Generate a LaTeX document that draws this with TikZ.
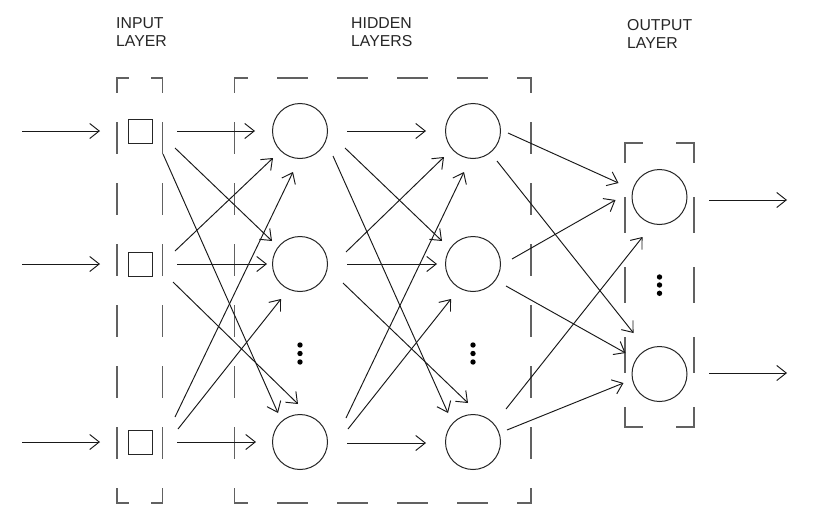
\documentclass[tikz,border=0pt]{standalone}
\usepackage{fontspec}
\setmainfont{Liberation Sans}
\usetikzlibrary{arrows.meta,calc}
\newcommand{\dside}[6]{%
  \pgfmathsetmacro{\dsL}{abs(#3-#1)+abs(#4-#2)}%
  \pgfmathsetmacro{\dsN}{floor((\dsL-#6)/(#5+#6))}%
  \pgfmathsetmacro{\dsC}{(\dsL-\dsN*#5-(\dsN+1)*#6)/2}%
  \pgfmathsetmacro{\dsP}{#5-\dsC}%
  \draw[boxline,dash pattern=on #5pt off #6pt,dash phase=\dsP pt] (#1,#2) -- (#3,#4);%
}
\newcommand{\dbox}[8]{%
  \dside{#1}{#2}{#3}{#2}{#5}{#6}%
  \dside{#1}{#4}{#3}{#4}{#5}{#6}%
  \dside{#1}{#2}{#1}{#4}{#7}{#8}%
  \dside{#3}{#2}{#3}{#4}{#7}{#8}%
}
\tikzset{
  sq/.style={draw=black!85, line width=1pt, minimum size=24pt, inner sep=0pt},
  neuron/.style={circle, draw=black!85, line width=1pt, minimum size=55pt, inner sep=0pt},
  conn/.style={draw=black!90, line width=0.95pt, -{Straight Barb[length=9.5pt,width=15pt]}},
  boxline/.style={draw=black!62, line width=1.3pt, line cap=rect},
  title/.style={anchor=north west, inner sep=0pt, align=left, text=black!85,
    font=\fontsize{15.8}{18.5}\selectfont},
}
\begin{document}
\begin{tikzpicture}[x=1pt,y=-1pt]
\fill[white] (0,0) rectangle (816,530);
\useasboundingbox (0,0) rectangle (816,530);

% titles
\node[title] (tin)  at (116,17) {INPUT\\LAYER};
\node[title] (thid) at (351,17) {HIDDEN\\LAYERS};
\node[title] (tout) at (627,19) {OUTPUT\\LAYER};

% dashed layer boxes
\dbox{117}{78}{162.5}{503}{30}{23}{31}{30}
\dbox{234.5}{78}{531}{503}{30}{30}{31}{30}
\dbox{625}{143}{694}{427}{35}{35}{35}{35}

% input units
\node[sq] (i1) at (140,131) {};
\node[sq] (i2) at (140,264) {};
\node[sq] (i3) at (140,442) {};
% hidden layer 1
\node[neuron] (a1) at (300,131) {};
\node[neuron] (a2) at (300,264) {};
\node[neuron] (a3) at (300,442) {};
% hidden layer 2
\node[neuron] (b1) at (473,131) {};
\node[neuron] (b2) at (473,264) {};
\node[neuron] (b3) at (473,442) {};
% output
\node[neuron] (o1) at (659.5,197) {};
\node[neuron] (o2) at (659.5,374) {};

% vertical dots
\foreach \yy in {345,353.5,362} {
  \fill[black] (300,\yy) circle (2.7pt);
  \fill[black] (473,\yy) circle (2.7pt);
}
\foreach \yy in {277,285,293.3} \fill[black] (659.5,\yy) circle (2.7pt);

% free ends
\coordinate (s1) at (22,131);
\coordinate (s2) at (22,264);
\coordinate (s3) at (22,442);
\coordinate (e1) at (787,200);
\coordinate (e2) at (787,373);

% input arrows
\draw[conn] (s1) -- ($(i1)+(-40,0)$);
\draw[conn] (s2) -- ($(i2)+(-40,0)$);
\draw[conn] (s3) -- ($(i3)+(-40,0)$);

% input -> hidden 1
\draw[conn] ($(i1)+(37,0)$)   -- ($(a1)+(-45,0)$);
\draw[conn] ($(i1)+(35,17)$)  -- ($(a2)+(-28,-23)$);
\draw[conn] ($(i1)+(23,23)$)  -- ($(a3)+(-22,-29)$);
\draw[conn] ($(i2)+(35,-13)$) -- ($(a1)+(-27,27)$);
\draw[conn] ($(i2)+(37,0)$)   -- ($(a2)+(-33,0)$);
\draw[conn] ($(i2)+(33,18)$)  -- ($(a3)+(-2,-38)$);
\draw[conn] ($(i3)+(35,-25)$) -- ($(a1)+(-7,41)$);
\draw[conn] ($(i3)+(38,-13)$) -- ($(a2)+(-19,35)$);
\draw[conn] ($(i3)+(37,0)$)   -- ($(a3)+(-44,0)$);

% hidden 1 -> hidden 2
\draw[conn] ($(a1)+(47,0)$)   -- ($(b1)+(-47,0)$);
\draw[conn] ($(a1)+(45,17)$)  -- ($(b2)+(-31,-23)$);
\draw[conn] ($(a1)+(33,25)$)  -- ($(b3)+(-25,-29)$);
\draw[conn] ($(a2)+(46,-12)$) -- ($(b1)+(-29,26)$);
\draw[conn] ($(a2)+(47,0)$)   -- ($(b2)+(-36,0)$);
\draw[conn] ($(a2)+(43,19)$)  -- ($(b3)+(-5,-39)$);
\draw[conn] ($(a3)+(46,-24)$) -- ($(b1)+(-9,41)$);
\draw[conn] ($(a3)+(48,-13)$) -- ($(b2)+(-22,35)$);
\draw[conn] ($(a3)+(47,1)$)   -- ($(b3)+(-47,1)$);

% hidden 2 -> output
\draw[conn] ($(b1)+(35,2)$)   -- ($(o1)+(-41,-14)$);
\draw[conn] ($(b1)+(24,30)$)  -- ($(o2)+(-26,-41)$);
\draw[conn] ($(b2)+(39,-5)$)  -- ($(o1)+(-44,3)$);
\draw[conn] ($(b2)+(33,22)$)  -- ($(o2)+(-34,-21)$);
\draw[conn] ($(b3)+(33,-33)$) -- ($(o1)+(-17,40)$);
\draw[conn] ($(b3)+(34,-12)$) -- ($(o2)+(-36,9)$);

% output arrows
\draw[conn] ($(o1)+(49.5,3)$) -- (e1);
\draw[conn] ($(o2)+(49.5,-1)$) -- (e2);
\end{tikzpicture}
\end{document}
